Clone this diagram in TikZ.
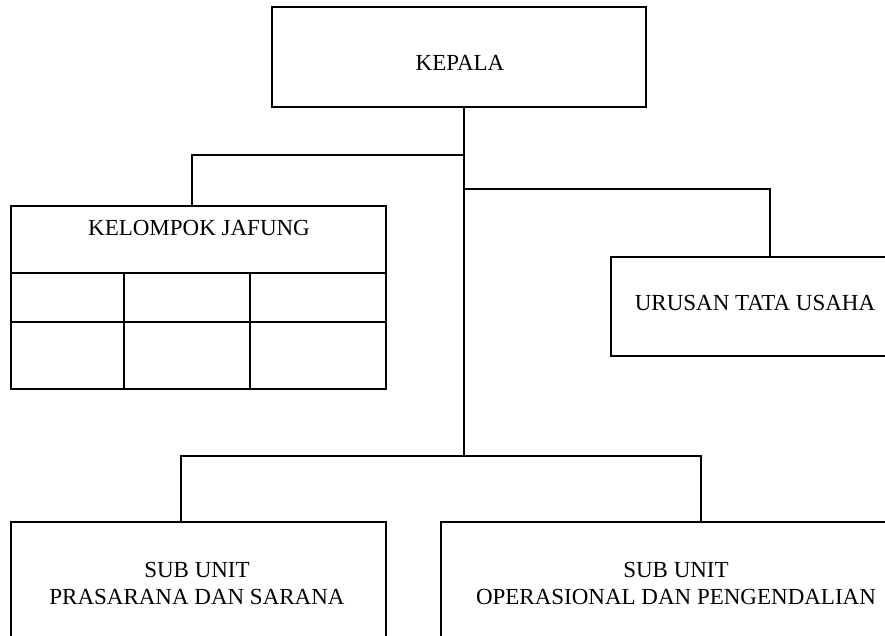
\documentclass[tikz,border=0pt]{standalone}
\usepackage{fontspec}
\setmainfont{Liberation Serif}
\begin{document}
\begin{tikzpicture}[x=1pt,y=-1pt,
  ln/.style={line width=1.2pt, black},
  thk/.style={line width=1.8pt, black},
  boxnode/.style={draw, line width=1.2pt, inner sep=0pt, outer sep=0pt},
  lbl/.style={font=\fontsize{23}{27}\selectfont, align=center, inner sep=0pt}]
\useasboundingbox (0,0) rectangle (885,636);
\fill[white] (0,0) rectangle (885,636);

% KEPALA
\node[boxnode, minimum width=374pt, minimum height=100pt] (kepala) at (459,57) {};
\node[lbl] (kepalaT) at (460,63) {KEPALA};

% KELOMPOK JAFUNG
\node[boxnode, minimum width=375pt, minimum height=183pt] (jafung) at (198.5,297.5) {};
\node[lbl] (jafungT) at (199,228) {KELOMPOK JAFUNG};
\draw[ln] (jafung.west |- 0,273) -- (jafung.east |- 0,273);
\draw[ln] (jafung.west |- 0,322) -- (jafung.east |- 0,322);
\draw[ln] (124,273) -- (124,389);
\draw[ln] (250,273) -- (250,389);

% URUSAN TATA USAHA (open to the right)
\draw[thk] (885,257) -- (611,257) -- (611,356) -- (885,356);
\node[lbl] (urusan) at (755,303) {URUSAN TATA USAHA};

% SUB UNIT boxes (open at bottom / right)
\draw[ln] (11,636) -- (11,522) -- (386,522) -- (386,636);
\node[lbl] (prasarana) at (197,583) {SUB UNIT\\PRASARANA DAN SARANA};
\draw[thk] (441,636) -- (441,522) -- (885,522);
\node[lbl] (operasional) at (676,583) {SUB UNIT\\OPERASIONAL DAN PENGENDALIAN};

% connectors
\coordinate (trunkTop) at (464,107);
\coordinate (jBranch) at (464,155);
\coordinate (uBranch) at (464,189);
\coordinate (trunkBot) at (464,456);
\coordinate (jTop) at (192,206);
\coordinate (uTop) at (770,257);
\coordinate (pTop) at (181,522);
\coordinate (oTop) at (701,522);

\draw[ln] (trunkTop) -- (trunkBot);
\draw[ln] (jBranch) -| (jTop);
\draw[ln] (uBranch) -| (uTop);
\draw[ln] (trunkBot) -| (pTop);
\draw[ln] (trunkBot) -| (oTop);
\end{tikzpicture}
\end{document}
